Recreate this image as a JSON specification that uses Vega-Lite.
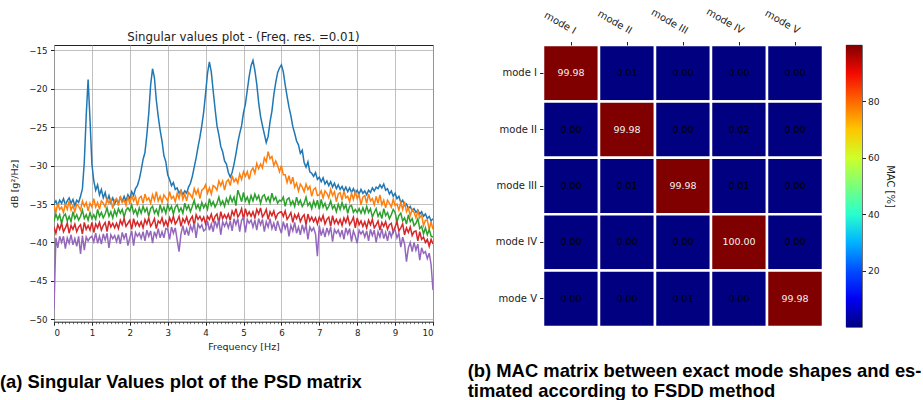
{
  "$schema": "https://vega.github.io/schema/vega-lite/v6.json",
  "background": "white",
  "padding": {"left": 0, "top": 6, "right": 0, "bottom": 0},
  "config": {
    "font": "DejaVu Sans",
    "view": {"stroke": null},
    "axis": {
      "labelFont": "DejaVu Sans", "titleFont": "DejaVu Sans",
      "labelColor": "#222", "titleColor": "#222", "tickColor": "#222", "domainColor": "#222",
      "labelFontSize": 10, "titleFontSize": 9.5, "titleFontWeight": "normal",
      "tickSize": 3.5, "labelPadding": 2, "gridColor": "#b0b0b0", "gridWidth": 0.8
    },
    "title": {"font": "DejaVu Sans", "fontWeight": "normal", "color": "#222"}
  },
  "datasets": {
    "psd": [
      {"f":0,"sv1":-35.0,"sv2":-35.2,"sv3":-37.2,"sv4":-38.0,"sv5":-48.7},
      {"f":0.05,"sv1":-34.6,"sv2":-36.1,"sv3":-36.3,"sv4":-38.8,"sv5":-39.4},
      {"f":0.1,"sv1":-35.2,"sv2":-34.9,"sv3":-37.0,"sv4":-37.7,"sv5":-40.7},
      {"f":0.15,"sv1":-34.5,"sv2":-35.7,"sv3":-36.4,"sv4":-38.3,"sv5":-39.2},
      {"f":0.2,"sv1":-34.9,"sv2":-35.4,"sv3":-37.5,"sv4":-37.5,"sv5":-40.0},
      {"f":0.25,"sv1":-34.3,"sv2":-36.1,"sv3":-36.6,"sv4":-38.6,"sv5":-39.2},
      {"f":0.3,"sv1":-35.1,"sv2":-35.0,"sv3":-36.3,"sv4":-38.1,"sv5":-40.8},
      {"f":0.35,"sv1":-34.6,"sv2":-35.7,"sv3":-37.2,"sv4":-37.5,"sv5":-39.4},
      {"f":0.4,"sv1":-34.2,"sv2":-34.6,"sv3":-36.6,"sv4":-38.8,"sv5":-40.1},
      {"f":0.45,"sv1":-34.9,"sv2":-35.8,"sv3":-37.3,"sv4":-37.8,"sv5":-39.0},
      {"f":0.5,"sv1":-34.4,"sv2":-35.2,"sv3":-36.0,"sv4":-38.3,"sv5":-40.3},
      {"f":0.55,"sv1":-35.2,"sv2":-36.0,"sv3":-36.9,"sv4":-37.6,"sv5":-39.5},
      {"f":0.6,"sv1":-34.5,"sv2":-35.0,"sv3":-36.4,"sv4":-38.6,"sv5":-40.5},
      {"f":0.65,"sv1":-34.8,"sv2":-35.3,"sv3":-37.1,"sv4":-38.0,"sv5":-39.2},
      {"f":0.7,"sv1":-34.0,"sv2":-35.8,"sv3":-36.6,"sv4":-37.7,"sv5":-41.5},
      {"f":0.75,"sv1":-33.0,"sv2":-34.6,"sv3":-35.8,"sv4":-38.9,"sv5":-39.1},
      {"f":0.8,"sv1":-29.5,"sv2":-35.3,"sv3":-36.9,"sv4":-37.4,"sv5":-41.0},
      {"f":0.85,"sv1":-23.5,"sv2":-34.8,"sv3":-36.4,"sv4":-38.3,"sv5":-39.3},
      {"f":0.9,"sv1":-18.8,"sv2":-35.9,"sv3":-37.1,"sv4":-37.8,"sv5":-39.8},
      {"f":0.95,"sv1":-24.0,"sv2":-34.9,"sv3":-36.1,"sv4":-38.4,"sv5":-39.4},
      {"f":1,"sv1":-29.8,"sv2":-35.4,"sv3":-36.9,"sv4":-37.4,"sv5":-39.2},
      {"f":1.05,"sv1":-32.0,"sv2":-34.3,"sv3":-36.4,"sv4":-38.7,"sv5":-39.9},
      {"f":1.1,"sv1":-33.2,"sv2":-35.4,"sv3":-37.0,"sv4":-37.6,"sv5":-38.8},
      {"f":1.15,"sv1":-32.5,"sv2":-34.8,"sv3":-35.7,"sv4":-38.1,"sv5":-40.1},
      {"f":1.2,"sv1":-33.8,"sv2":-35.7,"sv3":-36.6,"sv4":-37.4,"sv5":-39.2},
      {"f":1.25,"sv1":-33.1,"sv2":-34.6,"sv3":-36.1,"sv4":-38.4,"sv5":-40.2},
      {"f":1.3,"sv1":-34.2,"sv2":-34.9,"sv3":-36.8,"sv4":-37.8,"sv5":-38.9},
      {"f":1.35,"sv1":-33.5,"sv2":-35.4,"sv3":-36.3,"sv4":-37.4,"sv5":-39.7},
      {"f":1.4,"sv1":-34.6,"sv2":-34.3,"sv3":-35.5,"sv4":-38.6,"sv5":-38.8},
      {"f":1.45,"sv1":-33.9,"sv2":-34.9,"sv3":-36.6,"sv4":-37.2,"sv5":-40.7},
      {"f":1.5,"sv1":-34.8,"sv2":-34.4,"sv3":-36.0,"sv4":-38.0,"sv5":-39.0},
      {"f":1.55,"sv1":-34.2,"sv2":-35.6,"sv3":-36.8,"sv4":-37.5,"sv5":-39.5},
      {"f":1.6,"sv1":-35.0,"sv2":-34.5,"sv3":-35.8,"sv4":-38.1,"sv5":-39.1},
      {"f":1.65,"sv1":-34.4,"sv2":-34.3,"sv3":-36.5,"sv4":-37.5,"sv5":-39.9},
      {"f":1.7,"sv1":-34.9,"sv2":-35.2,"sv3":-35.6,"sv4":-38.2,"sv5":-39.0},
      {"f":1.75,"sv1":-34.1,"sv2":-34.0,"sv3":-36.2,"sv4":-37.1,"sv5":-40.2},
      {"f":1.8,"sv1":-34.7,"sv2":-34.8,"sv3":-35.7,"sv4":-37.7,"sv5":-38.7},
      {"f":1.85,"sv1":-34.0,"sv2":-34.5,"sv3":-36.7,"sv4":-36.9,"sv5":-39.5},
      {"f":1.9,"sv1":-34.6,"sv2":-35.2,"sv3":-35.8,"sv4":-37.9,"sv5":-38.8},
      {"f":1.95,"sv1":-33.8,"sv2":-34.0,"sv3":-35.5,"sv4":-37.5,"sv5":-40.4},
      {"f":2,"sv1":-34.3,"sv2":-35.0,"sv3":-35.9,"sv4":-37.1,"sv5":-39.4},
      {"f":2.05,"sv1":-33.4,"sv2":-33.9,"sv3":-35.1,"sv4":-38.3,"sv5":-38.5},
      {"f":2.1,"sv1":-33.9,"sv2":-34.6,"sv3":-36.2,"sv4":-36.9,"sv5":-40.4},
      {"f":2.15,"sv1":-33.0,"sv2":-34.0,"sv3":-35.7,"sv4":-37.8,"sv5":-38.7},
      {"f":2.2,"sv1":-32.6,"sv2":-35.2,"sv3":-36.5,"sv4":-37.3,"sv5":-39.2},
      {"f":2.25,"sv1":-31.8,"sv2":-34.2,"sv3":-35.5,"sv4":-37.9,"sv5":-38.8},
      {"f":2.3,"sv1":-30.6,"sv2":-34.0,"sv3":-36.2,"sv4":-37.3,"sv5":-39.5},
      {"f":2.35,"sv1":-29.2,"sv2":-34.9,"sv3":-35.3,"sv4":-38.1,"sv5":-38.6},
      {"f":2.4,"sv1":-28.3,"sv2":-33.7,"sv3":-36.0,"sv4":-37.0,"sv5":-39.8},
      {"f":2.45,"sv1":-26.0,"sv2":-34.5,"sv3":-35.5,"sv4":-37.6,"sv5":-38.4},
      {"f":2.5,"sv1":-23.2,"sv2":-34.2,"sv3":-36.6,"sv4":-36.8,"sv5":-39.2},
      {"f":2.55,"sv1":-19.5,"sv2":-34.9,"sv3":-35.6,"sv4":-37.9,"sv5":-38.5},
      {"f":2.6,"sv1":-17.4,"sv2":-33.8,"sv3":-35.3,"sv4":-37.5,"sv5":-40.1},
      {"f":2.65,"sv1":-18.6,"sv2":-34.5,"sv3":-36.2,"sv4":-36.9,"sv5":-38.6},
      {"f":2.7,"sv1":-21.5,"sv2":-33.4,"sv3":-35.7,"sv4":-38.2,"sv5":-39.3},
      {"f":2.75,"sv1":-23.6,"sv2":-34.6,"sv3":-36.4,"sv4":-37.2,"sv5":-38.2},
      {"f":2.8,"sv1":-25.4,"sv2":-34.0,"sv3":-35.1,"sv4":-37.5,"sv5":-39.4},
      {"f":2.85,"sv1":-26.8,"sv2":-34.8,"sv3":-36.0,"sv4":-36.8,"sv5":-38.6},
      {"f":2.9,"sv1":-28.7,"sv2":-33.8,"sv3":-35.4,"sv4":-37.8,"sv5":-39.4},
      {"f":2.95,"sv1":-29.5,"sv2":-34.2,"sv3":-36.2,"sv4":-37.2,"sv5":-38.2},
      {"f":3,"sv1":-31.2,"sv2":-34.6,"sv3":-35.1,"sv4":-37.9,"sv5":-38.3},
      {"f":3.05,"sv1":-31.8,"sv2":-33.4,"sv3":-35.8,"sv4":-36.8,"sv5":-39.6},
      {"f":3.1,"sv1":-32.6,"sv2":-34.3,"sv3":-35.3,"sv4":-37.4,"sv5":-38.0},
      {"f":3.15,"sv1":-32.2,"sv2":-34.0,"sv3":-36.3,"sv4":-36.6,"sv5":-38.8},
      {"f":3.2,"sv1":-33.1,"sv2":-34.7,"sv3":-35.4,"sv4":-37.6,"sv5":-38.1},
      {"f":3.25,"sv1":-32.9,"sv2":-33.6,"sv3":-35.1,"sv4":-37.2,"sv5":-39.7},
      {"f":3.3,"sv1":-33.6,"sv2":-34.3,"sv3":-36.0,"sv4":-36.6,"sv5":-41.2},
      {"f":3.35,"sv1":-33.2,"sv2":-33.2,"sv3":-35.5,"sv4":-37.9,"sv5":-38.9},
      {"f":3.4,"sv1":-33.8,"sv2":-34.4,"sv3":-36.2,"sv4":-36.9,"sv5":-37.8},
      {"f":3.45,"sv1":-33.3,"sv2":-33.7,"sv3":-34.9,"sv4":-37.4,"sv5":-39.0},
      {"f":3.5,"sv1":-33.6,"sv2":-34.6,"sv3":-35.7,"sv4":-36.7,"sv5":-38.2},
      {"f":3.55,"sv1":-32.8,"sv2":-33.5,"sv3":-35.2,"sv4":-37.6,"sv5":-39.1},
      {"f":3.6,"sv1":-32.3,"sv2":-33.8,"sv3":-36.0,"sv4":-37.0,"sv5":-37.8},
      {"f":3.65,"sv1":-31.4,"sv2":-34.2,"sv3":-35.3,"sv4":-36.6,"sv5":-38.5},
      {"f":3.7,"sv1":-30.2,"sv2":-33.0,"sv3":-34.5,"sv4":-37.8,"sv5":-37.5},
      {"f":3.75,"sv1":-29.0,"sv2":-33.7,"sv3":-35.6,"sv4":-36.4,"sv5":-39.4},
      {"f":3.8,"sv1":-27.6,"sv2":-33.1,"sv3":-35.1,"sv4":-37.0,"sv5":-37.6},
      {"f":3.85,"sv1":-26.3,"sv2":-34.3,"sv3":-35.8,"sv4":-36.6,"sv5":-38.1},
      {"f":3.9,"sv1":-24.8,"sv2":-33.2,"sv3":-34.8,"sv4":-37.2,"sv5":-37.7},
      {"f":3.95,"sv1":-23.0,"sv2":-33.0,"sv3":-35.5,"sv4":-36.7,"sv5":-38.5},
      {"f":4,"sv1":-20.6,"sv2":-32.5,"sv3":-35.0,"sv4":-37.6,"sv5":-38.3},
      {"f":4.05,"sv1":-18.0,"sv2":-33.6,"sv3":-35.7,"sv4":-36.6,"sv5":-37.2},
      {"f":4.1,"sv1":-16.5,"sv2":-32.9,"sv3":-34.3,"sv4":-37.0,"sv5":-38.4},
      {"f":4.15,"sv1":-17.8,"sv2":-33.7,"sv3":-35.2,"sv4":-36.3,"sv5":-37.6},
      {"f":4.2,"sv1":-20.3,"sv2":-32.6,"sv3":-34.7,"sv4":-37.3,"sv5":-38.6},
      {"f":4.25,"sv1":-22.6,"sv2":-32.8,"sv3":-35.4,"sv4":-36.6,"sv5":-37.2},
      {"f":4.3,"sv1":-24.8,"sv2":-33.2,"sv3":-34.9,"sv4":-36.3,"sv5":-38.0},
      {"f":4.35,"sv1":-26.0,"sv2":-32.0,"sv3":-34.1,"sv4":-37.5,"sv5":-37.1},
      {"f":4.4,"sv1":-27.5,"sv2":-32.6,"sv3":-35.1,"sv4":-36.0,"sv5":-39.0},
      {"f":4.45,"sv1":-28.2,"sv2":-32.0,"sv3":-34.6,"sv4":-36.9,"sv5":-37.3},
      {"f":4.5,"sv1":-29.4,"sv2":-33.2,"sv3":-35.3,"sv4":-36.4,"sv5":-37.9},
      {"f":4.55,"sv1":-29.8,"sv2":-32.1,"sv3":-34.3,"sv4":-36.9,"sv5":-37.3},
      {"f":4.6,"sv1":-30.9,"sv2":-31.8,"sv3":-34.9,"sv4":-36.3,"sv5":-38.1},
      {"f":4.65,"sv1":-31.5,"sv2":-32.6,"sv3":-34.0,"sv4":-37.1,"sv5":-37.2},
      {"f":4.7,"sv1":-30.9,"sv2":-31.3,"sv3":-34.7,"sv4":-35.9,"sv5":-38.5},
      {"f":4.75,"sv1":-29.8,"sv2":-32.1,"sv3":-34.1,"sv4":-36.5,"sv5":-36.9},
      {"f":4.8,"sv1":-28.5,"sv2":-31.7,"sv3":-35.2,"sv4":-35.6,"sv5":-37.7},
      {"f":4.85,"sv1":-27.0,"sv2":-32.3,"sv3":-33.2,"sv4":-36.7,"sv5":-36.9},
      {"f":4.9,"sv1":-25.8,"sv2":-31.1,"sv3":-33.9,"sv4":-36.3,"sv5":-38.6},
      {"f":4.95,"sv1":-24.8,"sv2":-31.8,"sv3":-34.7,"sv4":-35.6,"sv5":-37.1},
      {"f":5,"sv1":-23.1,"sv2":-30.8,"sv3":-33.5,"sv4":-37.0,"sv5":-36.8},
      {"f":5.05,"sv1":-22.0,"sv2":-31.4,"sv3":-34.6,"sv4":-35.6,"sv5":-38.7},
      {"f":5.1,"sv1":-20.2,"sv2":-30.8,"sv3":-34.1,"sv4":-36.5,"sv5":-37.0},
      {"f":5.15,"sv1":-18.4,"sv2":-31.8,"sv3":-34.9,"sv4":-36.0,"sv5":-37.5},
      {"f":5.2,"sv1":-17.0,"sv2":-30.7,"sv3":-33.9,"sv4":-36.6,"sv5":-37.1},
      {"f":5.25,"sv1":-16.3,"sv2":-30.3,"sv3":-34.6,"sv4":-36.0,"sv5":-38.0},
      {"f":5.3,"sv1":-17.6,"sv2":-31.0,"sv3":-33.7,"sv4":-36.8,"sv5":-37.1},
      {"f":5.35,"sv1":-19.4,"sv2":-29.7,"sv3":-34.4,"sv4":-35.7,"sv5":-38.4},
      {"f":5.4,"sv1":-21.8,"sv2":-30.4,"sv3":-33.9,"sv4":-36.3,"sv5":-36.9},
      {"f":5.45,"sv1":-23.6,"sv2":-29.8,"sv3":-34.9,"sv4":-35.5,"sv5":-37.7},
      {"f":5.5,"sv1":-24.8,"sv2":-30.3,"sv3":-34.0,"sv4":-36.7,"sv5":-37.0},
      {"f":5.55,"sv1":-25.9,"sv2":-29.0,"sv3":-33.8,"sv4":-36.3,"sv5":-38.6},
      {"f":5.6,"sv1":-27.0,"sv2":-29.5,"sv3":-34.6,"sv4":-35.7,"sv5":-37.3},
      {"f":5.65,"sv1":-26.2,"sv2":-28.2,"sv3":-34.1,"sv4":-37.0,"sv5":-38.0},
      {"f":5.7,"sv1":-24.3,"sv2":-29.1,"sv3":-34.8,"sv4":-36.0,"sv5":-36.9},
      {"f":5.75,"sv1":-22.9,"sv2":-28.8,"sv3":-33.6,"sv4":-36.5,"sv5":-38.2},
      {"f":5.8,"sv1":-20.8,"sv2":-30.0,"sv3":-34.5,"sv4":-35.9,"sv5":-37.5},
      {"f":5.85,"sv1":-19.2,"sv2":-29.4,"sv3":-34.1,"sv4":-36.9,"sv5":-38.5},
      {"f":5.9,"sv1":-17.9,"sv2":-30.0,"sv3":-34.9,"sv4":-36.3,"sv5":-37.2},
      {"f":5.95,"sv1":-17.3,"sv2":-30.8,"sv3":-34.5,"sv4":-36.1,"sv5":-38.1},
      {"f":6,"sv1":-16.9,"sv2":-30.0,"sv3":-34.6,"sv4":-36.0,"sv5":-38.8},
      {"f":6.05,"sv1":-17.8,"sv2":-31.2,"sv3":-34.1,"sv4":-36.6,"sv5":-37.3},
      {"f":6.1,"sv1":-19.5,"sv2":-31.2,"sv3":-35.3,"sv4":-35.9,"sv5":-38.2},
      {"f":6.15,"sv1":-21.0,"sv2":-32.2,"sv3":-34.4,"sv4":-37.0,"sv5":-37.5},
      {"f":6.2,"sv1":-22.4,"sv2":-31.3,"sv3":-34.2,"sv4":-36.6,"sv5":-39.2},
      {"f":6.25,"sv1":-23.5,"sv2":-32.4,"sv3":-35.1,"sv4":-36.1,"sv5":-37.8},
      {"f":6.3,"sv1":-24.9,"sv2":-31.5,"sv3":-34.6,"sv4":-37.4,"sv5":-38.5},
      {"f":6.35,"sv1":-25.8,"sv2":-32.8,"sv3":-35.3,"sv4":-36.4,"sv5":-37.4},
      {"f":6.4,"sv1":-26.8,"sv2":-32.3,"sv3":-34.1,"sv4":-36.9,"sv5":-38.8},
      {"f":6.45,"sv1":-27.3,"sv2":-33.3,"sv3":-35.0,"sv4":-36.3,"sv5":-38.0},
      {"f":6.5,"sv1":-28.4,"sv2":-32.4,"sv3":-34.5,"sv4":-37.3,"sv5":-39.0},
      {"f":6.55,"sv1":-28.0,"sv2":-32.8,"sv3":-35.3,"sv4":-36.7,"sv5":-37.7},
      {"f":6.6,"sv1":-29.6,"sv2":-33.4,"sv3":-34.9,"sv4":-36.4,"sv5":-38.6},
      {"f":6.65,"sv1":-30.2,"sv2":-32.4,"sv3":-34.1,"sv4":-37.7,"sv5":-37.7},
      {"f":6.7,"sv1":-29.5,"sv2":-33.1,"sv3":-35.2,"sv4":-36.3,"sv5":-39.6},
      {"f":6.75,"sv1":-30.8,"sv2":-32.7,"sv3":-34.8,"sv4":-37.2,"sv5":-38.0},
      {"f":6.8,"sv1":-31.0,"sv2":-34.0,"sv3":-35.6,"sv4":-36.7,"sv5":-38.5},
      {"f":6.85,"sv1":-31.4,"sv2":-33.1,"sv3":-34.6,"sv4":-37.3,"sv5":-38.1},
      {"f":6.9,"sv1":-30.9,"sv2":-32.9,"sv3":-35.3,"sv4":-36.8,"sv5":-38.9},
      {"f":6.95,"sv1":-31.8,"sv2":-33.9,"sv3":-34.5,"sv4":-37.6,"sv5":-41.8},
      {"f":7,"sv1":-31.5,"sv2":-33.8,"sv3":-35.7,"sv4":-36.7,"sv5":-37.8},
      {"f":7.05,"sv1":-32.1,"sv2":-33.3,"sv3":-34.4,"sv4":-37.2,"sv5":-39.1},
      {"f":7.1,"sv1":-31.6,"sv2":-34.2,"sv3":-35.4,"sv4":-36.5,"sv5":-38.3},
      {"f":7.15,"sv1":-32.4,"sv2":-33.3,"sv3":-34.9,"sv4":-37.6,"sv5":-39.3},
      {"f":7.2,"sv1":-32.0,"sv2":-33.6,"sv3":-35.7,"sv4":-37.0,"sv5":-38.1},
      {"f":7.25,"sv1":-32.6,"sv2":-34.2,"sv3":-35.3,"sv4":-36.7,"sv5":-38.9},
      {"f":7.3,"sv1":-32.1,"sv2":-33.1,"sv3":-34.6,"sv4":-37.9,"sv5":-38.0},
      {"f":7.35,"sv1":-32.8,"sv2":-33.9,"sv3":-35.6,"sv4":-36.5,"sv5":-39.9},
      {"f":7.4,"sv1":-32.3,"sv2":-33.4,"sv3":-35.2,"sv4":-37.5,"sv5":-38.3},
      {"f":7.45,"sv1":-33.0,"sv2":-34.7,"sv3":-36.0,"sv4":-37.0,"sv5":-38.8},
      {"f":7.5,"sv1":-32.5,"sv2":-33.7,"sv3":-35.0,"sv4":-37.6,"sv5":-38.4},
      {"f":7.55,"sv1":-33.1,"sv2":-33.5,"sv3":-35.7,"sv4":-37.0,"sv5":-39.2},
      {"f":7.6,"sv1":-32.7,"sv2":-34.5,"sv3":-34.8,"sv4":-37.8,"sv5":-38.4},
      {"f":7.65,"sv1":-33.3,"sv2":-33.3,"sv3":-35.6,"sv4":-36.8,"sv5":-39.6},
      {"f":7.7,"sv1":-32.8,"sv2":-34.2,"sv3":-35.1,"sv4":-37.4,"sv5":-38.1},
      {"f":7.75,"sv1":-33.4,"sv2":-34.0,"sv3":-36.2,"sv4":-36.6,"sv5":-38.9},
      {"f":7.8,"sv1":-32.9,"sv2":-34.7,"sv3":-35.3,"sv4":-37.7,"sv5":-38.2},
      {"f":7.85,"sv1":-33.5,"sv2":-33.6,"sv3":-35.2,"sv4":-37.3,"sv5":-39.9},
      {"f":7.9,"sv1":-33.0,"sv2":-34.4,"sv3":-36.1,"sv4":-36.7,"sv5":-38.5},
      {"f":7.95,"sv1":-33.6,"sv2":-33.4,"sv3":-35.7,"sv4":-38.1,"sv5":-39.2},
      {"f":8,"sv1":-33.2,"sv2":-34.3,"sv3":-36.1,"sv4":-36.8,"sv5":-40.1},
      {"f":8.05,"sv1":-33.7,"sv2":-33.8,"sv3":-35.6,"sv4":-37.7,"sv5":-38.4},
      {"f":8.1,"sv1":-33.1,"sv2":-35.1,"sv3":-36.2,"sv4":-37.2,"sv5":-38.9},
      {"f":8.15,"sv1":-33.6,"sv2":-34.1,"sv3":-35.5,"sv4":-37.9,"sv5":-38.5},
      {"f":8.2,"sv1":-33.3,"sv2":-33.9,"sv3":-36.2,"sv4":-37.3,"sv5":-39.3},
      {"f":8.25,"sv1":-33.8,"sv2":-34.9,"sv3":-35.3,"sv4":-38.1,"sv5":-38.5},
      {"f":8.3,"sv1":-33.2,"sv2":-33.7,"sv3":-36.1,"sv4":-37.1,"sv5":-39.8},
      {"f":8.35,"sv1":-33.5,"sv2":-34.6,"sv3":-35.6,"sv4":-37.7,"sv5":-38.3},
      {"f":8.4,"sv1":-32.9,"sv2":-34.3,"sv3":-36.7,"sv4":-37.0,"sv5":-39.1},
      {"f":8.45,"sv1":-33.3,"sv2":-35.1,"sv3":-36.1,"sv4":-38.1,"sv5":-38.4},
      {"f":8.5,"sv1":-32.8,"sv2":-34.0,"sv3":-35.6,"sv4":-37.7,"sv5":-40.0},
      {"f":8.55,"sv1":-33.0,"sv2":-34.9,"sv3":-36.6,"sv4":-37.2,"sv5":-38.6},
      {"f":8.6,"sv1":-32.5,"sv2":-33.8,"sv3":-36.1,"sv4":-38.4,"sv5":-39.3},
      {"f":8.65,"sv1":-32.9,"sv2":-35.1,"sv3":-36.9,"sv4":-37.4,"sv5":-38.2},
      {"f":8.7,"sv1":-32.4,"sv2":-34.5,"sv3":-35.6,"sv4":-37.9,"sv5":-39.5},
      {"f":8.75,"sv1":-33.2,"sv2":-35.5,"sv3":-36.5,"sv4":-37.3,"sv5":-38.7},
      {"f":8.8,"sv1":-33.0,"sv2":-34.5,"sv3":-36.1,"sv4":-38.3,"sv5":-39.8},
      {"f":8.85,"sv1":-33.7,"sv2":-34.9,"sv3":-36.9,"sv4":-37.7,"sv5":-38.5},
      {"f":8.9,"sv1":-33.3,"sv2":-35.4,"sv3":-36.4,"sv4":-37.5,"sv5":-39.3},
      {"f":8.95,"sv1":-34.0,"sv2":-34.4,"sv3":-35.7,"sv4":-38.7,"sv5":-38.4},
      {"f":9,"sv1":-33.6,"sv2":-35.2,"sv3":-36.1,"sv4":-38.0,"sv5":-38.4},
      {"f":9.05,"sv1":-34.3,"sv2":-35.0,"sv3":-37.3,"sv4":-37.3,"sv5":-39.4},
      {"f":9.1,"sv1":-34.0,"sv2":-35.8,"sv3":-36.5,"sv4":-38.5,"sv5":-38.8},
      {"f":9.15,"sv1":-34.8,"sv2":-34.8,"sv3":-36.2,"sv4":-38.1,"sv5":-40.6},
      {"f":9.2,"sv1":-34.5,"sv2":-35.7,"sv3":-37.2,"sv4":-37.6,"sv5":-39.3},
      {"f":9.25,"sv1":-35.2,"sv2":-34.7,"sv3":-36.8,"sv4":-39.0,"sv5":-40.2},
      {"f":9.3,"sv1":-35.0,"sv2":-36.0,"sv3":-37.6,"sv4":-38.1,"sv5":-42.5},
      {"f":9.35,"sv1":-35.6,"sv2":-35.5,"sv3":-36.4,"sv4":-38.7,"sv5":-40.7},
      {"f":9.4,"sv1":-35.3,"sv2":-36.5,"sv3":-37.3,"sv4":-38.0,"sv5":-40.0},
      {"f":9.45,"sv1":-35.9,"sv2":-35.7,"sv3":-36.9,"sv4":-39.1,"sv5":-41.2},
      {"f":9.5,"sv1":-35.6,"sv2":-36.1,"sv3":-37.8,"sv4":-38.6,"sv5":-40.0},
      {"f":9.55,"sv1":-36.1,"sv2":-36.8,"sv3":-37.5,"sv4":-38.5,"sv5":-41.0},
      {"f":9.6,"sv1":-35.8,"sv2":-35.9,"sv3":-36.9,"sv4":-39.8,"sv5":-40.2},
      {"f":9.65,"sv1":-36.3,"sv2":-36.8,"sv3":-38.2,"sv4":-38.6,"sv5":-42.3},
      {"f":9.7,"sv1":-36.0,"sv2":-36.4,"sv3":-37.9,"sv4":-39.6,"sv5":-40.7},
      {"f":9.75,"sv1":-36.6,"sv2":-37.8,"sv3":-38.9,"sv4":-39.3,"sv5":-41.4},
      {"f":9.8,"sv1":-36.3,"sv2":-37.1,"sv3":-38.1,"sv4":-40.0,"sv5":-41.2},
      {"f":9.85,"sv1":-36.9,"sv2":-37.1,"sv3":-39.0,"sv4":-39.6,"sv5":-42.1},
      {"f":9.9,"sv1":-36.6,"sv2":-38.3,"sv3":-38.3,"sv4":-40.5,"sv5":-41.4},
      {"f":9.95,"sv1":-37.2,"sv2":-37.3,"sv3":-39.2,"sv4":-39.6,"sv5":-42.9},
      {"f":10,"sv1":-36.9,"sv2":-38.3,"sv3":-39.3,"sv4":-40.2,"sv5":-46.2}
    ],
    "mac": [
      {"row":"mode I","col":"mode I","mac":99.98},
      {"row":"mode I","col":"mode II","mac":0.01},
      {"row":"mode I","col":"mode III","mac":0.00},
      {"row":"mode I","col":"mode IV","mac":0.00},
      {"row":"mode I","col":"mode V","mac":0.00},
      {"row":"mode II","col":"mode I","mac":0.00},
      {"row":"mode II","col":"mode II","mac":99.98},
      {"row":"mode II","col":"mode III","mac":0.00},
      {"row":"mode II","col":"mode IV","mac":0.02},
      {"row":"mode II","col":"mode V","mac":0.00},
      {"row":"mode III","col":"mode I","mac":0.00},
      {"row":"mode III","col":"mode II","mac":0.01},
      {"row":"mode III","col":"mode III","mac":99.98},
      {"row":"mode III","col":"mode IV","mac":0.01},
      {"row":"mode III","col":"mode V","mac":0.00},
      {"row":"mode IV","col":"mode I","mac":0.00},
      {"row":"mode IV","col":"mode II","mac":0.00},
      {"row":"mode IV","col":"mode III","mac":0.00},
      {"row":"mode IV","col":"mode IV","mac":100.00},
      {"row":"mode IV","col":"mode V","mac":0.00},
      {"row":"mode V","col":"mode I","mac":0.00},
      {"row":"mode V","col":"mode II","mac":0.00},
      {"row":"mode V","col":"mode III","mac":0.01},
      {"row":"mode V","col":"mode IV","mac":0.00},
      {"row":"mode V","col":"mode V","mac":99.98}
    ],
    "cbar": [{"lo": 0, "hi": 100}]
  },
  "bounds": "flush",
  "spacing": 489,
  "hconcat": [
    {
      "title": {
        "text": "(a) Singular Values plot of the PSD matrix",
        "orient": "bottom", "anchor": "start", "frame": "group",
        "dx": -54, "offset": 21.5,
        "font": "Liberation Sans", "fontSize": 18.4, "fontWeight": "bold", "color": "black"
      },
      "bounds": "flush",
      "vconcat": [
        {
          "width": 379,
          "height": 276.7,
          "view": {"stroke": "#222", "strokeWidth": 1},
          "title": {"text": "Singular values plot - (Freq. res. =0.01)", "fontSize": 11.8, "offset": 1},
          "resolve": {"axis": {"x": "independent"}},
          "layer": [
            {
              "data": {"name": "psd"},
              "transform": [{"fold": ["sv1", "sv2", "sv3", "sv4", "sv5"], "as": ["sv", "db"]}],
              "mark": {"type": "line", "strokeWidth": 1.5, "clip": true},
              "encoding": {
                "x": {
                  "field": "f", "type": "quantitative",
                  "scale": {"domain": [0, 10], "nice": false, "zero": false},
                  "axis": {"orient": "bottom", "values": [0,1,2,3,4,5,6,7,8,9,10], "grid": true, "domain": false,
                           "labelFontSize": 8.7, "labelPadding": 3.5,
                           "title": "Frequency [Hz]", "titlePadding": 4}
                },
                "y": {
                  "field": "db", "type": "quantitative",
                  "scale": {"domain": [-50.31, -14.31], "nice": false, "zero": false},
                  "axis": {"values": [-15,-20,-25,-30,-35,-40,-45,-50], "format": "d", "grid": true, "domain": false,
                           "labelFontSize": 8.7, "labelPadding": 3.5,
                           "title": "dB [g²/Hz]", "titlePadding": 9}
                },
                "color": {
                  "field": "sv", "type": "nominal",
                  "scale": {"domain": ["sv1","sv2","sv3","sv4","sv5"], "range": ["#1f77b4","#ff7f0e","#2ca02c","#d62728","#9467bd"]},
                  "legend": null
                }
              }
            },
            {
              "data": {"values": [{"f": 0}]},
              "mark": {"type": "rule", "opacity": 0},
              "encoding": {
                "x": {
                  "field": "f", "type": "quantitative",
                  "axis": {"orient": "bottom", "tickCount": 100, "labels": false, "grid": false, "domain": false,
                           "tickSize": 2, "tickWidth": 0.6, "title": null}
                }
              }
            }
          ]
        }
      ]
    },
    {
      "title": {
        "text": ["(b) MAC matrix between exact mode shapes and es-", "timated according to FSDD method"],
        "orient": "bottom", "anchor": "start", "frame": "group",
        "dx": -75.3, "offset": 33.5, "lineHeight": 20.5,
        "font": "Liberation Sans", "fontSize": 18.4, "fontWeight": "bold", "color": "black"
      },
      "bounds": "flush",
      "spacing": 23,
      "hconcat": [
        {
          "width": 280,
          "height": 282,
          "data": {"name": "mac"},
          "encoding": {
            "x": {
              "field": "col", "type": "ordinal",
              "sort": ["mode I","mode II","mode III","mode IV","mode V"],
              "scale": {"paddingInner": 0, "paddingOuter": 0},
              "axis": {"orient": "top", "title": null, "domain": false, "labelAngle": 30,
                       "labelAlign": "right", "labelBaseline": "bottom", "labelPadding": 6, "labelOffset": 1.5}
            },
            "y": {
              "field": "row", "type": "ordinal",
              "sort": ["mode I","mode II","mode III","mode IV","mode V"],
              "scale": {"paddingInner": 0, "paddingOuter": 0},
              "axis": {"title": null, "domain": false, "labelPadding": 3}
            }
          },
          "layer": [
            {
              "mark": {"type": "rect", "stroke": "white", "strokeWidth": 2.5},
              "encoding": {
                "color": {
                  "field": "mac", "type": "quantitative",
                  "scale": {
                    "domain": [0,10,20,30,40,50,60,70,80,90,100],
                    "range": ["#000080","#0000f3","#004dff","#00b3ff","#29ffce","#7bff7b","#ceff29","#ffc600","#ff6800","#f30900","#800000"]
                  },
                  "legend": null
                }
              }
            },
            {
              "mark": {"type": "text", "fontSize": 9.5, "font": "DejaVu Sans"},
              "encoding": {
                "text": {"field": "mac", "type": "quantitative", "format": ".2f"},
                "color": {"condition": {"test": "datum.mac > 50", "value": "#f0f0f0"}, "value": "black"}
              }
            }
          ]
        },
        {
          "width": 16,
          "height": 282,
          "data": {"name": "cbar"},
          "view": {"stroke": "#222", "strokeWidth": 0.8},
          "mark": {
            "type": "rect",
            "color": {
              "gradient": "linear", "x1": 0, "y1": 1, "x2": 0, "y2": 0,
              "stops": [
                {"offset": 0, "color": "#000080"},
                {"offset": 0.1, "color": "#0000f3"},
                {"offset": 0.2, "color": "#004dff"},
                {"offset": 0.3, "color": "#00b3ff"},
                {"offset": 0.4, "color": "#29ffce"},
                {"offset": 0.5, "color": "#7bff7b"},
                {"offset": 0.6, "color": "#ceff29"},
                {"offset": 0.7, "color": "#ffc600"},
                {"offset": 0.8, "color": "#ff6800"},
                {"offset": 0.9, "color": "#f30900"},
                {"offset": 1, "color": "#800000"}
              ]
            }
          },
          "encoding": {
            "y": {
              "field": "lo", "type": "quantitative",
              "scale": {"domain": [0, 100], "nice": false},
              "axis": {"orient": "right", "values": [20, 40, 60, 80], "grid": false, "domain": false,
                       "labelFontSize": 9.2, "labelPadding": 2,
                       "title": "MAC [%]", "titleFontSize": 10, "titleAngle": 90, "titlePadding": 5.5}
            },
            "y2": {"field": "hi"}
          }
        }
      ]
    }
  ]
}
